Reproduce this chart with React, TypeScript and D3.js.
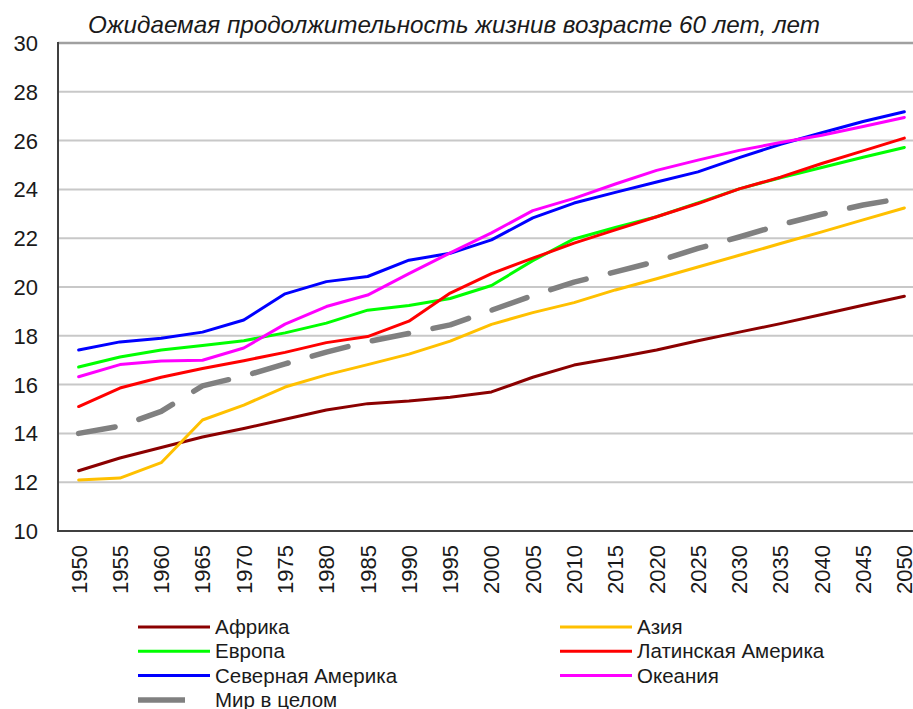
import React from "react";
import * as d3 from "d3";

const years = [1950, 1955, 1960, 1965, 1970, 1975, 1980, 1985, 1990, 1995, 2000, 2005, 2010, 2015, 2020, 2025, 2030, 2035, 2040, 2045, 2050];
const yTicks = [10, 12, 14, 16, 18, 20, 22, 24, 26, 28, 30];

const africa = [12.47, 12.99, 13.42, 13.85, 14.2, 14.58, 14.96, 15.22, 15.33, 15.48, 15.7, 16.3, 16.8, 17.1, 17.42, 17.8, 18.15, 18.5, 18.87, 19.25, 19.62];
const asia = [12.09, 12.17, 12.8, 14.55, 15.16, 15.9, 16.4, 16.82, 17.25, 17.78, 18.47, 18.95, 19.36, 19.88, 20.34, 20.82, 21.3, 21.78, 22.26, 22.75, 23.24];
const europe = [16.72, 17.13, 17.42, 17.6, 17.8, 18.12, 18.52, 19.05, 19.24, 19.53, 20.06, 21.08, 21.97, 22.44, 22.88, 23.45, 24.02, 24.48, 24.9, 25.32, 25.72];
const latam = [15.1, 15.86, 16.3, 16.66, 16.98, 17.32, 17.72, 17.97, 18.6, 19.75, 20.55, 21.18, 21.8, 22.34, 22.88, 23.42, 24.02, 24.5, 25.06, 25.58, 26.1];
const northAm = [17.42, 17.75, 17.9, 18.15, 18.65, 19.72, 20.22, 20.43, 21.1, 21.38, 21.93, 22.83, 23.44, 23.88, 24.3, 24.72, 25.3, 25.85, 26.32, 26.78, 27.18];
const oceania = [16.32, 16.82, 16.97, 17.0, 17.5, 18.48, 19.2, 19.67, 20.55, 21.4, 22.22, 23.13, 23.63, 24.22, 24.78, 25.2, 25.6, 25.92, 26.22, 26.58, 26.95];
const world = [14.0, 14.3, 14.9, 15.95, 16.35, 16.85, 17.33, 17.76, 18.1, 18.45, 19.05, 19.65, 20.2, 20.62, 21.05, 21.58, 22.05, 22.55, 22.98, 23.36, 23.65];

const seriesNames = ["Африка", "Азия", "Европа", "Латинская Америка", "Северная Америка", "Океания", "Мир в целом"];
const seriesValues = [africa, asia, europe, latam, northAm, oceania, world];
const seriesColors = ["#8b0000", "#ffc000", "#00ff00", "#ff0000", "#0000ff", "#ff00ff", "#808080"];

const title = "Ожидаемая продолжительность жизнив возрасте 60 лет, лет";

const W = 913;
const H = 709;
const left = 58;
const top = 43;
const bottom = 531;
const plotRight = 925;
const font = "'Liberation Sans', Arial, sans-serif";

export default function App() {
  const x = d3.scaleBand<number>().domain(years).range([left, plotRight]);
  const xc = (yr: number) => (x(yr) as number) + x.bandwidth() / 2;
  const y = d3.scaleLinear().domain([10, 30]).range([bottom, top]);
  const line = d3
    .line<number>()
    .x((_, i) => xc(years[i]))
    .y((v) => y(v));

  const legendItems = seriesNames.map((name, i) => {
    const col = i === 6 ? 0 : i % 2;
    const row = i === 6 ? 3 : Math.floor(i / 2);
    return { name, color: seriesColors[i], col, row, dashed: i === 6 };
  });

  return (
    <svg width={W} height={H} style={{ display: "block", position: "absolute", left: 0, top: 0 }}>
      <rect x={0} y={0} width={W} height={H} fill="#ffffff" />
      <text
        x={88}
        y={33}
        fontFamily={font}
        fontStyle="italic"
        fontSize={24}
        fill="#1a1a1a"
        textLength={732}
        lengthAdjust="spacingAndGlyphs"
      >
        {title}
      </text>
      {yTicks.slice(1, -1).map((t) => (
        <line key={t} x1={left} x2={W} y1={y(t)} y2={y(t)} stroke="#c8c8c8" strokeWidth={2} />
      ))}
      <line x1={left} x2={W} y1={top} y2={top} stroke="#a0a0a0" strokeWidth={2.5} />
      <line x1={left} x2={left} y1={top - 1} y2={bottom + 1} stroke="#404040" strokeWidth={2} />
      <line x1={left - 1} x2={W} y1={bottom} y2={bottom} stroke="#404040" strokeWidth={2} />
      {yTicks.map((t) => (
        <text
          key={t}
          x={38}
          y={y(t)}
          dy="0.36em"
          textAnchor="end"
          fontFamily={font}
          fontSize={22}
          fill="#1a1a1a"
        >
          {t}
        </text>
      ))}
      {years.map((yr) => (
        <text
          key={yr}
          transform={`translate(${xc(yr)},545) rotate(-90)`}
          dy="0.36em"
          textAnchor="end"
          fontFamily={font}
          fontSize={22}
          fill="#1a1a1a"
        >
          {yr}
        </text>
      ))}
      {seriesValues.map((vals, i) => (
        <path
          key={seriesNames[i]}
          d={line(vals) as string}
          fill="none"
          stroke={seriesColors[i]}
          strokeWidth={i === 6 ? 5.5 : 3}
          strokeDasharray={i === 6 ? "37 25" : undefined}
          strokeLinecap="round"
          strokeLinejoin="round"
        />
      ))}
      {legendItems.map((it) => {
        const lx = it.col === 0 ? 138 : 560;
        const ly = 627 + it.row * 24.3;
        return (
          <g key={it.name}>
            <line
              x1={lx}
              x2={it.dashed ? lx + 47 : lx + 72}
              y1={ly}
              y2={ly}
              stroke={it.color}
              strokeWidth={it.dashed ? 5.5 : 3}
            />
            <text
              x={lx + 77}
              y={ly}
              dy="0.35em"
              fontFamily={font}
              fontSize={20.5}
              fill="#1a1a1a"
            >
              {it.name}
            </text>
          </g>
        );
      })}
    </svg>
  );
}
